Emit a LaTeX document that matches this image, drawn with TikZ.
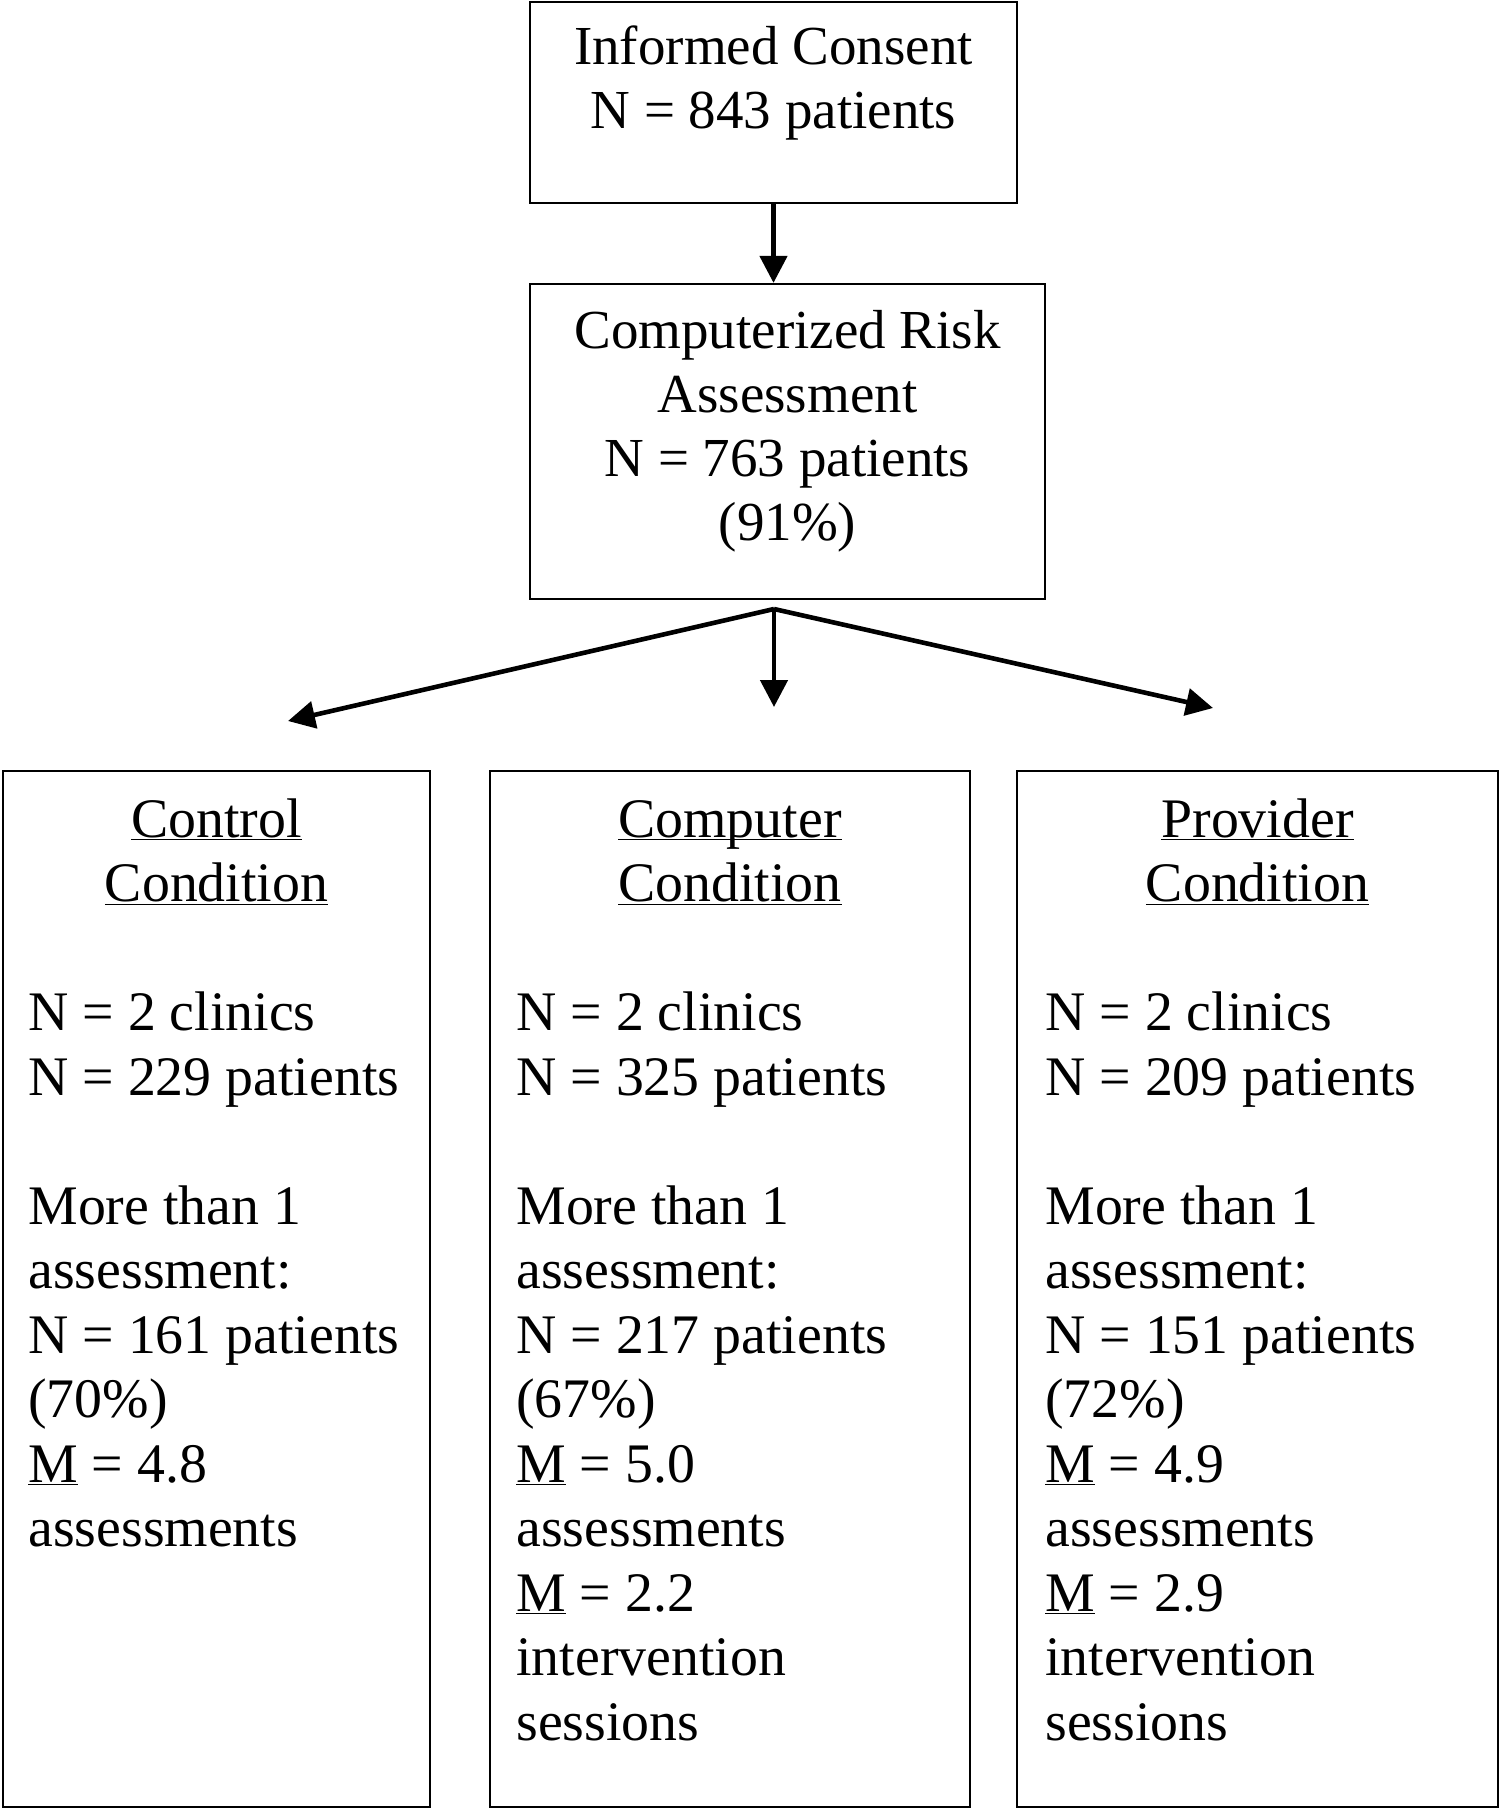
\documentclass[tikz,border=0pt]{standalone}
\usepackage{fontspec}
\setmainfont{Liberation Serif}
\usetikzlibrary{arrows.meta}
\newcommand\myul[1]{\underline{\smash{#1}}}
\begin{document}
\begin{tikzpicture}[x=0.5pt,y=-0.5pt,
  box/.style={draw, line width=1.1pt, inner sep=0pt},
  txt/.style={inner sep=0pt, font=\fontsize{27.5}{32}\selectfont},
  btxt/.style={inner sep=0pt, font=\fontsize{27.9}{32.25}\selectfont},
  arr/.style={line width=2.3pt, -{Triangle[length=13.5pt,width=13.5pt]}}]
\useasboundingbox (0,0) rectangle (1500,1810);

% boxes
\node[box, minimum width=243.5pt, minimum height=100.5pt] (top) at (773.5,102.5) {};
\node[box, minimum width=257.5pt, minimum height=157.5pt] (risk) at (787.5,441.5) {};
\node[box, minimum width=213.5pt, minimum height=518pt] (ctrl) at (216.5,1289) {};
\node[box, minimum width=240pt, minimum height=518pt] (comp) at (730,1289) {};
\node[box, minimum width=240.5pt, minimum height=518pt] (prov) at (1257.5,1289) {};

% texts
\node[txt, anchor=base] (topt) at (773.5,64) {\parbox[t]{235pt}{\centering Informed Consent\\ N = 843 patients}};
\node[txt, anchor=base] (riskt) at (787.5,348) {\parbox[t]{250pt}{\centering Computerized Risk\\ Assessment\\ N = 763 patients\\ (91\%)}};

\node[btxt, anchor=base] (ctrlh) at (216.5,837) {\parbox[t]{200pt}{\centering \myul{Control}\\ \myul{Condition}}};
\node[btxt, anchor=base] (comph) at (730,837) {\parbox[t]{230pt}{\centering \myul{Computer}\\ \myul{Condition}}};
\node[btxt, anchor=base] (provh) at (1257.5,837) {\parbox[t]{230pt}{\centering \myul{Provider}\\ \myul{Condition}}};

\node[btxt, anchor=base west] (ctrlb) at (28,1030.5) {\parbox[t]{200pt}{\raggedright
N = 2 clinics\\ N = 229 patients\\[32.25pt]
More than 1\\ assessment:\\ N = 161 patients\\ (70\%)\\ \myul{M} = 4.8\\ assessments}};
\node[btxt, anchor=base west] (compb) at (516,1030.5) {\parbox[t]{220pt}{\raggedright
N = 2 clinics\\ N = 325 patients\\[32.25pt]
More than 1\\ assessment:\\ N = 217 patients\\ (67\%)\\ \myul{M} = 5.0\\ assessments\\ \myul{M} = 2.2\\ intervention\\ sessions}};
\node[btxt, anchor=base west] (provb) at (1045,1030.5) {\parbox[t]{220pt}{\raggedright
N = 2 clinics\\ N = 209 patients\\[32.25pt]
More than 1\\ assessment:\\ N = 151 patients\\ (72\%)\\ \myul{M} = 4.9\\ assessments\\ \myul{M} = 2.9\\ intervention\\ sessions}};

% connectors
\draw[arr] (top.south) -- (top.south |- risk.north);
\coordinate (br) at (774,609);
\coordinate (tipL) at (288,721);
\coordinate (tipM) at (774,707);
\coordinate (tipR) at (1213,708);
\draw[arr] (br) -- (tipL);
\draw[arr] (br) -- (tipM);
\draw[arr] (br) -- (tipR);
\end{tikzpicture}
\end{document}
